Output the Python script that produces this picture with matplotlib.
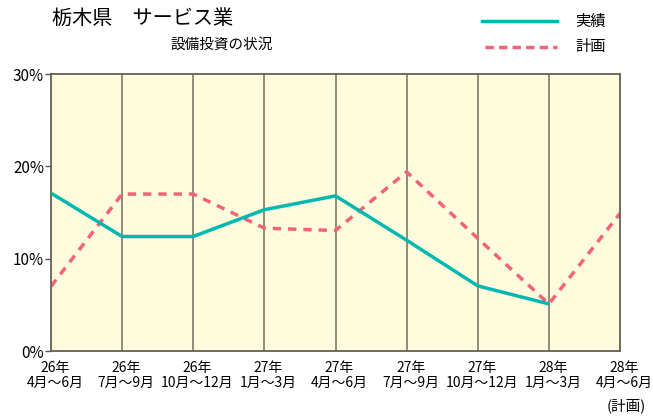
import numpy as np
import matplotlib
matplotlib.use('Agg')
import matplotlib.pyplot as plt
import matplotlib.transforms as mtransforms

plt.rcParams['font.family'] = ['Noto Sans CJK JP', 'DejaVu Sans']

periods = ['26年\n4月～6月', '26年\n7月～9月', '26年\n10月～12月', '27年\n1月～3月',
           '27年\n4月～6月', '27年\n7月～9月', '27年\n10月～12月', '28年\n1月～3月',
           '28年\n4月～6月']
actual = [17.1, 12.4, 12.4, 15.3, 16.8, 12.0, 7.05, 5.1]
plan = [7.0, 17.0, 17.0, 13.3, 13.05, 19.4, 12.2, 5.1, 14.9]
yticks = [0, 10, 20, 30]

teal = '#00b8b0'
pink = '#f06478'
grid_c = '#8a8270'

fig = plt.figure(figsize=(6.53, 4.19), dpi=100)
ax = fig.add_axes([51/653, 1 - 351/419, (620-51)/653, (351-74)/419])
ax.set_facecolor('#fffcde')

x = np.arange(len(periods))
for xi in x[1:-1]:
    ax.axvline(xi, color=grid_c, lw=1.3, zorder=1)

ax.plot(x[:len(actual)], actual, color=teal, lw=2.5, zorder=3, solid_capstyle='butt')
ax.plot(x, plan, color=pink, lw=2.5, ls=(0, (2.4, 2.0)), zorder=2)

ax.set_xlim(0, len(periods) - 1)
ax.set_ylim(0, 30)
ax.set_yticks(yticks)
ax.set_yticklabels([f'{v}%' for v in yticks], fontsize=11)
ax.set_xticks(x)
ax.set_xticklabels(periods, fontsize=10, linespacing=1.15)
ax.tick_params(axis='x', length=0, pad=7)
ax.tick_params(axis='y', length=4, width=1, color='#555555', pad=1)
shift = mtransforms.ScaledTranslation(4/100, 0, fig.dpi_scale_trans)
for lbl in ax.get_xticklabels():
    lbl.set_transform(lbl.get_transform() + shift)
for s in ax.spines.values():
    s.set_color('#665f52')
    s.set_linewidth(1.3)

fig.text(52/653, 1 - 18/419, '栃木県　サービス業', fontsize=14.5, va='center', ha='left')
fig.text(170/653, 1 - 45/419, '設備投資の状況', fontsize=10.5, va='center', ha='left')

# legend
fig.add_artist(plt.Line2D([482/653, 557/653], [1 - 21/419] * 2, color=teal, lw=2.5))
fig.add_artist(plt.Line2D([485/653, 557/653], [1 - 47/419] * 2, color=pink, lw=2.5,
                          ls=(0, (2.4, 1.5))))
fig.text(575/653, 1 - 21/419, '実績', fontsize=11, va='center', ha='left')
fig.text(575/653, 1 - 47/419, '計画', fontsize=11, va='center', ha='left')

fig.text(646/653, 1 - 406/419, '(計画)', fontsize=10.5, va='center', ha='right')

fig.savefig('out.png', dpi=100)
